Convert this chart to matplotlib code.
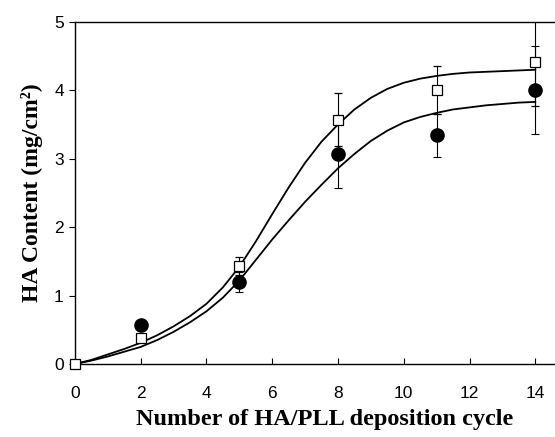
import matplotlib
matplotlib.use('Agg')
import matplotlib.pyplot as plt

# measured points
cycles = [0, 2, 5, 8, 11, 14]
sq_vals = [0.0, 0.38, 1.43, 3.57, 4.00, 4.42]
sq_err = [0.0, 0.05, 0.13, 0.39, 0.35, 0.65]
ci_cycles = [2, 5, 8, 11, 14]
ci_vals = [0.57, 1.20, 3.07, 3.34, 4.00]
ci_err = [0.03, 0.15, 0.50, 0.32, 0.64]

# fitted curves (every half cycle)
fit_x = [0, 0.5, 1, 1.5, 2, 2.5, 3, 3.5, 4, 4.5, 5, 5.5, 6, 6.5, 7, 7.5, 8, 8.5, 9,
         9.5, 10, 10.5, 11, 11.5, 12, 12.5, 13, 13.5, 14]
fit_sq = [0, 0.06, 0.14, 0.22, 0.31, 0.42, 0.55, 0.70, 0.88, 1.12, 1.42, 1.79, 2.19,
          2.58, 2.94, 3.25, 3.50, 3.72, 3.89, 4.02, 4.11, 4.17, 4.21, 4.24, 4.26,
          4.27, 4.28, 4.29, 4.30]
fit_ci = [0, 0.05, 0.11, 0.18, 0.25, 0.35, 0.47, 0.61, 0.77, 0.97, 1.22, 1.52, 1.82,
          2.10, 2.37, 2.62, 2.86, 3.07, 3.26, 3.41, 3.53, 3.61, 3.67, 3.72, 3.75,
          3.78, 3.80, 3.82, 3.83]

xticks = [0, 2, 4, 6, 8, 10, 12, 14]
yticks = [0, 1, 2, 3, 4, 5]

fig = plt.figure(figsize=(5.55, 4.37), dpi=100)
ax = fig.add_axes([0.135, 0.167, 0.865, 0.783])

ax.plot(fit_x, fit_sq, color='black', lw=1.3, zorder=2)
ax.plot(fit_x, fit_ci, color='black', lw=1.3, zorder=2)

ax.errorbar(ci_cycles, ci_vals, yerr=ci_err, fmt='o', color='black', ms=9.5,
            ecolor='black', elinewidth=0.8, capsize=3, capthick=0.8, zorder=3)
sq = ax.errorbar(cycles, sq_vals, yerr=sq_err, fmt='s', mfc='white', mec='black',
                 mew=0.9, ms=7.5, ecolor='black', elinewidth=0.8, capsize=3,
                 capthick=0.8, zorder=4)
sq.lines[0].set_clip_on(False)

ax.set_xlim(0, 14.6)
ax.set_ylim(0, 5)
ax.set_xticks(xticks)
ax.set_yticks(yticks)
ax.spines['right'].set_visible(False)
for s in ['left', 'top', 'bottom']:
    ax.spines[s].set_linewidth(1.0)
ax.tick_params(axis='x', direction='in', length=4, pad=16)
ax.tick_params(axis='y', direction='out', length=4, pad=4)
for lab in ax.get_xticklabels() + ax.get_yticklabels():
    lab.set_family('Liberation Sans')
    lab.set_fontsize(12.5)

ax.set_xlabel('Number of HA/PLL deposition cycle', family='Liberation Serif',
              fontweight='bold', fontsize=17.5)
ax.xaxis.set_label_coords(0.52, -0.13)
ax.set_ylabel('HA Content (mg/cm²)', family='Liberation Serif',
              fontweight='bold', fontsize=17, labelpad=8)

fig.savefig('out.png', dpi=100)
